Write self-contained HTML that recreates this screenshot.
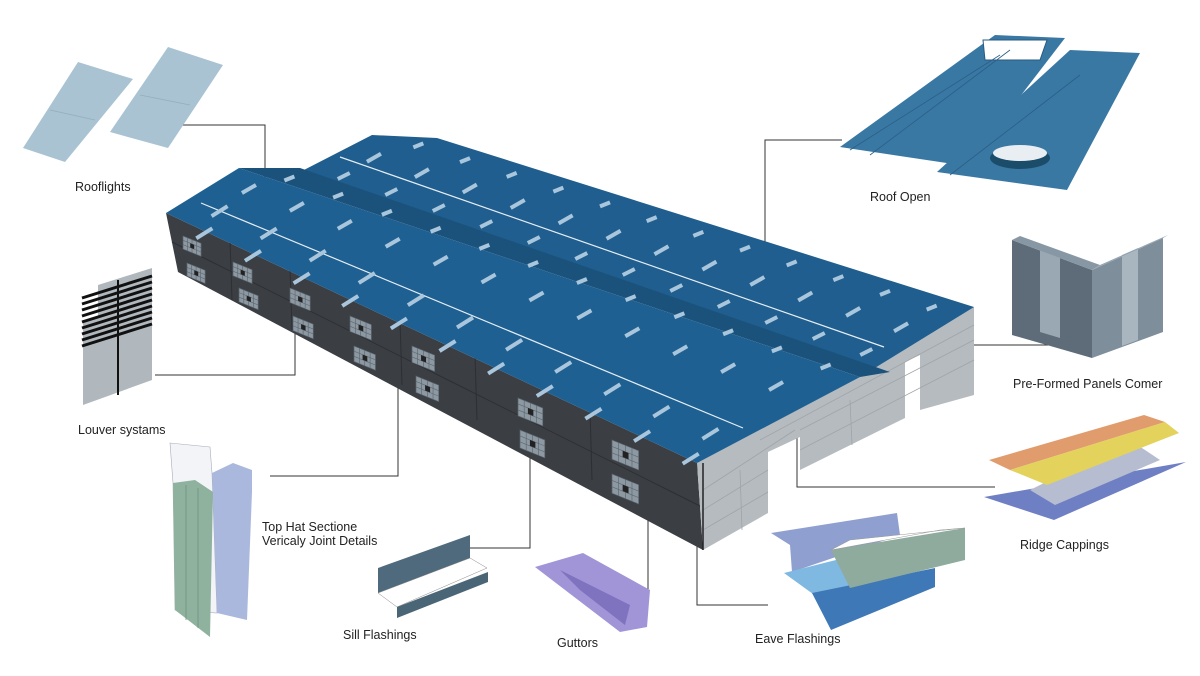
<!DOCTYPE html>
<html><head><meta charset="utf-8"><style>
html,body{margin:0;padding:0;background:#fff;}
svg{display:block}
text{font-family:"Liberation Sans",sans-serif;font-size:12.5px;fill:#222}
</style></head><body>
<svg id="s" width="1200" height="676" viewBox="0 0 1200 676" xmlns="http://www.w3.org/2000/svg">
<rect width="1200" height="676" fill="#fff"/>
<g stroke="#333" stroke-width="1" fill="none">
<polyline points="133,125 265,125 265,197"/>
<polyline points="842,140 765,140 765,268"/>
<polyline points="968,345 1078,345"/>
<polyline points="797,390 797,487 995,487"/>
<polyline points="697,463 697,605 768,605"/>
<polyline points="648,430 648,590"/>
<polyline points="470,548 530,548 530,443"/>
<polyline points="270,476 398,476 398,370"/>
<polyline points="155,375 295,375 295,330"/>
</g>
<polygon points="166,213 697,463 703,550 178,272" fill="#3b3e43"/>
<g stroke="#2c2f33" stroke-width="1">
<line x1="172" y1="242" x2="700" y2="506"/>
<line x1="230" y1="240" x2="232" y2="300"/><line x1="290" y1="268" x2="292" y2="330"/>
<line x1="400" y1="320" x2="402" y2="385"/><line x1="475" y1="355" x2="477" y2="420"/>
<line x1="590" y1="410" x2="592" y2="480"/>
</g>
<polygon points="697,463 795,387 860,377 903,337 974,307 974,395 920,410 920,355 905,362 905,418 800,470 800,437 768,452 768,513 703,550" fill="#b6bbbf"/>
<g stroke="#9ea4a9" stroke-width="0.8">
<line x1="703" y1="490" x2="795" y2="430"/><line x1="703" y1="510" x2="768" y2="470"/>
<line x1="703" y1="530" x2="768" y2="492"/><line x1="800" y1="450" x2="974" y2="360"/>
<line x1="800" y1="430" x2="974" y2="340"/><line x1="760" y1="440" x2="974" y2="325"/>
<line x1="740" y1="470" x2="742" y2="530"/><line x1="850" y1="400" x2="852" y2="445"/>
</g>
<line x1="703" y1="463" x2="703" y2="550" stroke="#222" stroke-width="1.5"/>
<polygon points="300,172 372,135 437,138 974,307 860,377" fill="#1f5e8e"/>
<polygon points="239,168 300,168 890,372 860,377" fill="#1b527c"/>
<polygon points="166,213 239,168 860,377 697,463" fill="#1f6093"/>
<line x1="201" y1="203" x2="743" y2="428" stroke="#e6eef4" stroke-width="1.2"/>
<line x1="340" y1="157" x2="884" y2="347" stroke="#e6eef4" stroke-width="1.2"/>
<g id="sky" stroke="#a9c6dc" stroke-width="4"></g>
<g id="win"></g>
<polygon points="78,62 133,79 65,162 23,148" fill="#a9c3d3"/>
<polygon points="168,47 223,65 168,148 110,132" fill="#a9c3d3"/>
<g stroke="#93adbe" stroke-width="0.8"><line x1="50" y1="110" x2="95" y2="120"/><line x1="140" y1="95" x2="190" y2="105"/></g>
<polygon points="98,285 152,268 152,380 83,405 83,320 98,318" fill="#b1b8bd"/>
<g stroke="#111" stroke-width="3">
<line x1="82" y1="298" x2="152" y2="276"/><line x1="82" y1="304" x2="152" y2="282"/><line x1="82" y1="310" x2="152" y2="288"/>
<line x1="82" y1="316" x2="152" y2="294"/><line x1="82" y1="322" x2="152" y2="300"/><line x1="82" y1="328" x2="152" y2="306"/>
<line x1="82" y1="334" x2="152" y2="312"/><line x1="82" y1="340" x2="152" y2="318"/><line x1="82" y1="346" x2="152" y2="324"/>
</g>
<line x1="118" y1="280" x2="118" y2="395" stroke="#111" stroke-width="2"/>
<polygon points="170,443 210,447 212,473 217,613 175,610 173,483" fill="#f2f4f8" stroke="#aab" stroke-width="0.6"/>
<polygon points="212,473 233,463 252,470 252,492 247,620 217,613" fill="#a9b8dc"/>
<polygon points="173,483 195,480 213,492 210,637 175,610" fill="#8fb29f"/>
<g stroke="#6f8f80" stroke-width="0.8"><line x1="186" y1="485" x2="186" y2="620"/><line x1="198" y1="488" x2="198" y2="628"/></g>
<polygon points="840,147 995,35 1065,38 975,155 960,165" fill="#3a78a4"/>
<polygon points="937,172 1070,50 1140,53 1067,190" fill="#3a78a4"/>
<polygon points="983,40 1047,40 1040,60 985,60" fill="#fff" stroke="#2a5a80"/>
<g stroke="#2a5f86" stroke-width="0.8"><line x1="850" y1="150" x2="1000" y2="55"/><line x1="950" y1="175" x2="1080" y2="75"/><line x1="870" y1="155" x2="1010" y2="50"/></g>
<ellipse cx="1020" cy="158" rx="30" ry="11" fill="#1b4d6b"/>
<ellipse cx="1020" cy="153" rx="27" ry="8" fill="#e8eef2"/>
<polygon points="1012,240 1092,270 1092,358 1012,335" fill="#5d6c78"/>
<polygon points="1092,270 1163,238 1163,332 1092,358" fill="#7e8e9b"/>
<polygon points="1040,250 1060,258 1060,338 1040,332" fill="#9aa8b3"/>
<polygon points="1122,255 1138,248 1138,340 1122,346" fill="#a9b6c0"/>
<polygon points="1012,240 1020,236 1100,265 1092,270" fill="#8797a4"/>
<polygon points="1092,270 1100,265 1168,235 1163,238" fill="#93a3b0"/>
<polygon points="984,497 1186,462 1054,520" fill="#6f7fc4"/>
<polygon points="1030,490 1130,440 1160,460 1055,505" fill="#b7bdd0"/>
<polygon points="989,460 1144,415 1165,422 1010,470" fill="#e09c6c"/>
<polygon points="1010,470 1165,422 1179,433 1047,485" fill="#e3d25c"/>
<polygon points="771,533 897,513 900,535 792,572 790,545" fill="#8f9fcf"/>
<polygon points="784,573 848,557 860,585 831,607" fill="#7fb8e0"/>
<polygon points="812,593 935,568 935,587 831,630" fill="#3f78b6"/>
<polygon points="831,550 965,528 965,560 850,588" fill="#8eab9d"/>
<polygon points="831,550 940,530 965,528 850,540" fill="#fff" stroke="#999" stroke-width="0.5"/>
<polygon points="378,568 470,535 470,558 378,593" fill="#4f6a7c"/>
<polygon points="378,593 470,558 487,568 397,607" fill="#fff" stroke="#888" stroke-width="0.5"/>
<polygon points="397,607 488,572 488,582 397,618" fill="#4a6676"/>
<polygon points="535,567 583,553 650,590 647,627 620,632" fill="#a195d8"/>
<polygon points="560,570 630,605 625,625 580,590" fill="#7f72bf"/>
<text x="75" y="191">Rooflights</text>
<text x="78" y="434">Louver systams</text>
<text x="262" y="531">Top Hat Sectione</text>
<text x="262" y="545">Vericaly Joint Details</text>
<text x="343" y="639">Sill Flashings</text>
<text x="557" y="647">Guttors</text>
<text x="755" y="643">Eave Flashings</text>
<text x="1020" y="549">Ridge Cappings</text>
<text x="1013" y="388">Pre-Formed Panels Comer</text>
<text x="870" y="201">Roof Open</text>
</svg>
<script>
var ns="http://www.w3.org/2000/svg",sky=document.getElementById("sky"),win=document.getElementById("win");
function L(a,b,t){return [a[0]+(b[0]-a[0])*t,a[1]+(b[1]-a[1])*t];}
function rowOf(p0,p1,n,dx,dy){for(var i=0;i<n;i++){var p=L(p0,p1,(i+0.5)/n);var l=document.createElementNS(ns,"line");
l.setAttribute("x1",p[0]-dx);l.setAttribute("y1",p[1]-dy);l.setAttribute("x2",p[0]+dx);l.setAttribute("y2",p[1]+dy);sky.appendChild(l);}}
rowOf([180,222],[715,470],11,8,-5);
rowOf([195,200],[735,445],11,8,-5);
rowOf([225,180],[800,395],12,7,-4);
rowOf([265,170],[850,375],12,5,-2);
rowOf([320,168],[890,360],12,6,-3);
rowOf([350,150],[925,335],12,7,-4);
rowOf([395,138],[955,315],12,5,-2);
var W=[[183,236],[233,262],[290,288],[350,316],[412,346],[518,398],[612,440],[187,263],[239,288],[293,316],[354,346],[416,376],[520,430],[612,474]];
W.forEach(function(w){var s=1+(w[0]-180)/900;var wd=18*s,ht=13*s;
var g=document.createElementNS(ns,"g");
g.setAttribute("transform","translate("+w[0]+","+w[1]+") skewY(22)");
var r=document.createElementNS(ns,"rect");r.setAttribute("width",wd);r.setAttribute("height",ht);
r.setAttribute("fill","#8c98a2");r.setAttribute("stroke","#5b646c");r.setAttribute("stroke-width","0.7");g.appendChild(r);
for(var i=1;i<4;i++){var l=document.createElementNS(ns,"line");l.setAttribute("x1",wd*i/4);l.setAttribute("x2",wd*i/4);l.setAttribute("y1",0);l.setAttribute("y2",ht);l.setAttribute("stroke","#5b646c");l.setAttribute("stroke-width","0.6");g.appendChild(l);}
for(var j=1;j<3;j++){var l2=document.createElementNS(ns,"line");l2.setAttribute("y1",ht*j/3);l2.setAttribute("y2",ht*j/3);l2.setAttribute("x1",0);l2.setAttribute("x2",wd);l2.setAttribute("stroke","#5b646c");l2.setAttribute("stroke-width","0.6");g.appendChild(l2);}
var c=document.createElementNS(ns,"rect");c.setAttribute("x",wd*0.4);c.setAttribute("y",ht*0.33);c.setAttribute("width",wd*0.22);c.setAttribute("height",ht*0.33);c.setAttribute("fill","#222");g.appendChild(c);
win.appendChild(g);});
</script>
</body></html>
